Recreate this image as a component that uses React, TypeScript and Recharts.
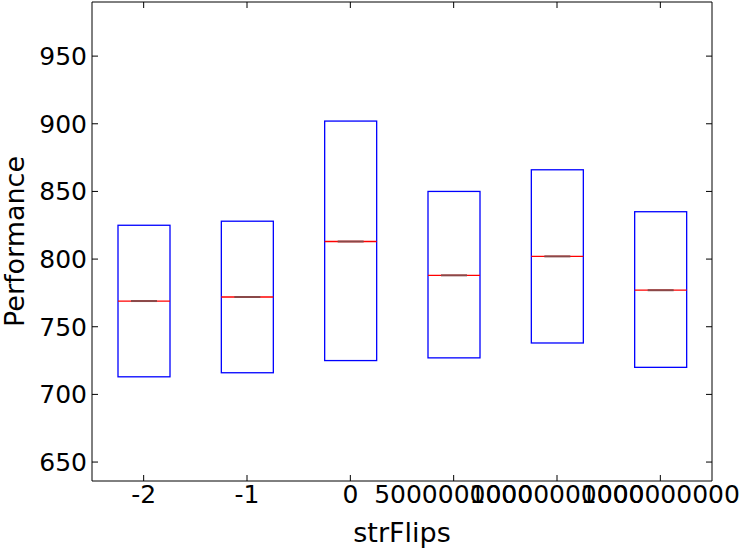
import React from 'react';
import { ComposedChart, Bar, XAxis, YAxis } from 'recharts';

const categories = ['-2', '-1', '0', '5000000000', '10000000000', '1000000000'];
const q1Values = [713, 716, 725, 727, 738, 720];
const medianValues = [769, 772, 813, 788, 802, 777];
const q3Values = [825, 828, 902, 850, 866, 835];
const yTicks = [650, 700, 750, 800, 850, 900, 950];

const data = categories.map((label, i) => ({
  label,
  box: [q1Values[i], q3Values[i]],
  q1: q1Values[i],
  median: medianValues[i],
  q3: q3Values[i],
}));

const FONT = 'DejaVu Sans, sans-serif';

const BoxShape = (props: any) => {
  const { x, y, width, height, payload } = props;
  const top = Math.min(y, y + height);
  const h = Math.abs(height);
  const my = top + (h * (payload.q3 - payload.median)) / (payload.q3 - payload.q1);
  return (
    <g>
      <rect x={x} y={top} width={width} height={h} fill="none" stroke="#0000ff" strokeWidth={1.3} />
      <line x1={x} x2={x + width} y1={my} y2={my} stroke="#ff0000" strokeWidth={1.3} />
      <line x1={x + width / 4} x2={x + (3 * width) / 4} y1={my} y2={my} stroke="#8a4848" strokeWidth={2} />
    </g>
  );
};

export default function App() {
  return (
    <div style={{ position: 'absolute', left: 0, top: 0, background: '#fff' }}>
      <ComposedChart width={739} height={552} data={data} margin={{ top: 1, right: 26, bottom: 0, left: 0 }}>
        <XAxis
          dataKey="label"
          xAxisId="bottom"
          height={71}
          tickSize={-6}
          tickMargin={10}
          stroke="#000"
          interval={0}
          tick={{ fill: '#000', fontSize: 25, fontFamily: FONT }}
          label={{ value: 'strFlips', position: 'insideBottom', offset: 10, fill: '#000', fontSize: 27, fontFamily: FONT }}
        />
        <XAxis
          dataKey="label"
          xAxisId="top"
          orientation="top"
          height={1}
          tickSize={-6}
          stroke="#000"
          interval={0}
          tickFormatter={() => ''}
        />
        <YAxis
          yAxisId="left"
          type="number"
          domain={[636, 990]}
          ticks={yTicks}
          allowDataOverflow
          width={92}
          tickSize={-6}
          tickMargin={11}
          stroke="#000"
          tick={{ fill: '#000', fontSize: 25, fontFamily: FONT }}
          label={{
            value: 'Performance',
            angle: -90,
            position: 'insideLeft',
            offset: 14,
            fill: '#000',
            fontSize: 27,
            fontFamily: FONT,
            style: { textAnchor: 'middle' },
          }}
        />
        <YAxis
          yAxisId="right"
          orientation="right"
          type="number"
          domain={[636, 990]}
          ticks={yTicks}
          allowDataOverflow
          width={1}
          tickSize={-6}
          stroke="#000"
          tickFormatter={() => ''}
        />
        <Bar
          dataKey="box"
          xAxisId="bottom"
          yAxisId="left"
          barSize={52}
          shape={BoxShape}
          isAnimationActive={false}
        />
      </ComposedChart>
    </div>
  );
}
